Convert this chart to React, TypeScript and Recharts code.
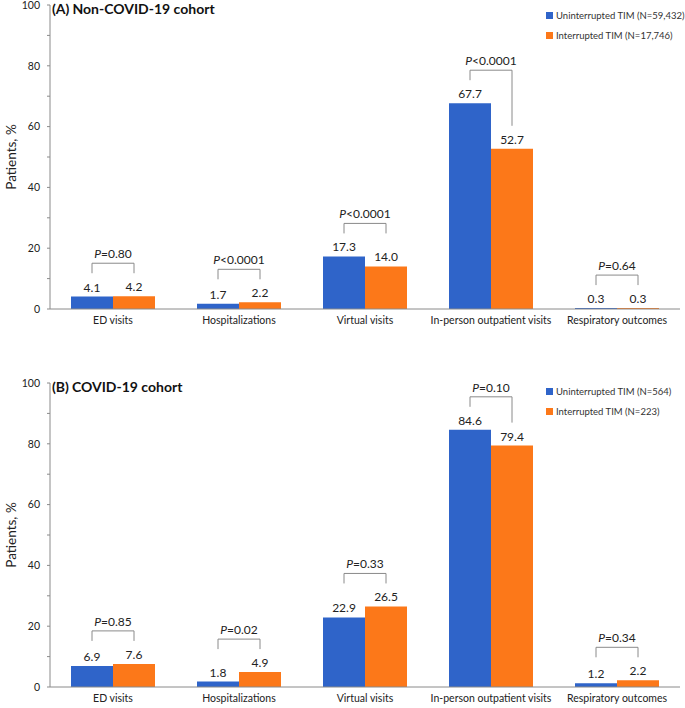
import { BarChart, Bar, XAxis, YAxis, Legend, LabelList } from 'recharts'

const categories = ['ED visits', 'Hospitalizations', 'Virtual visits', 'In-person outpatient visits', 'Respiratory outcomes']

const nonCovidUninterrupted = [4.1, 1.7, 17.3, 67.7, 0.3]
const nonCovidInterrupted = [4.2, 2.2, 14.0, 52.7, 0.3]
const nonCovidP = ['=0.80', '<0.0001', '<0.0001', '<0.0001', '=0.64']

const covidUninterrupted = [6.9, 1.8, 22.9, 84.6, 1.2]
const covidInterrupted = [7.6, 4.9, 26.5, 79.4, 2.2]
const covidP = ['=0.85', '=0.02', '=0.33', '=0.10', '=0.34']

const yTicks = [0, 10, 20, 30, 40, 50, 60, 70, 80, 90, 100]

const BLUE = '#2F64C9'
const ORANGE = '#FC7819'
const FONT = 'Lato, "Open Sans", sans-serif'

interface Row {
  name: string
  a: number
  b: number
  p: string
}

const buildRows = (a: number[], b: number[], p: string[]): Row[] =>
  categories.map((name, i) => ({ name, a: a[i], b: b[i], p: p[i] }))

// bracket + P value, drawn from the orange bar geometry
const makeBracket = (rows: Row[]) => (props: any) => {
  const vb = props.viewBox ?? props
  const { x, y, width, height } = vb
  const row = rows[props.index]
  if (!row || !height) return null
  const base = y + height
  const ppu = height / row.b
  const blueTop = base - row.a * ppu
  const cxL = x - width / 2
  const cxR = x + width / 2
  let legL = blueTop - 23
  let legR = y - 23
  if (Math.abs(legL - legR) < 14) {
    legL = legR = Math.min(legL, legR)
  }
  const top = Math.min(legL, legR) - 10
  return (
    <g>
      <path d={`M${cxL},${legL}V${top}H${cxR}V${legR}`} stroke="#8a8a8a" strokeWidth={1} fill="none" />
      <text x={(cxL + cxR) / 2} y={top - 5} textAnchor="middle" fontSize={12} fill="#222" fontFamily={FONT}>
        <tspan fontStyle="italic">P</tspan>
        <tspan>{row.p}</tspan>
      </text>
    </g>
  )
}

const renderLegend = (props: any) => {
  const items = [...(props.payload || [])].sort((p: any, q: any) =>
    String(p.dataKey).localeCompare(String(q.dataKey))
  )
  return (
    <div style={{ fontFamily: FONT, fontSize: 9.5, color: '#333' }}>
      {items.map((item: any) => (
        <div key={item.value} style={{ display: 'flex', alignItems: 'center', height: 20, whiteSpace: 'nowrap' }}>
          <span style={{ width: 7, height: 7, background: item.color, marginRight: 3, display: 'inline-block' }} />
          {item.value}
        </div>
      ))}
    </div>
  )
}

interface PanelProps {
  rows: Row[]
  title: string
  letter: string
  nA: string
  nB: string
  height: number
  top: number
  xHeight: number
  legendTop: number
  titleTop: number
}

function Panel({ rows, title, letter, nA, nB, height, top, xHeight, legendTop, titleTop }: PanelProps) {
  return (
    <div style={{ position: 'relative', width: 685, height }}>
      <BarChart
        width={685}
        height={height}
        data={rows}
        margin={{ top, right: 5, left: 0, bottom: 0 }}
        barCategoryGap={21}
        barGap={0}
      >
        <XAxis
          dataKey="name"
          height={xHeight}
          tickLine={false}
          axisLine={{ stroke: '#8a8a8a' }}
          tick={{ fontSize: 10.5, fill: '#222', fontFamily: FONT }}
        />
        <YAxis
          width={50}
          domain={[0, 100]}
          ticks={yTicks}
          interval={0}
          tickFormatter={(v: number) => (v % 20 === 0 ? String(v) : '')}
          tickSize={3}
          tickMargin={7}
          tickLine={{ stroke: '#8a8a8a' }}
          axisLine={{ stroke: '#8a8a8a' }}
          tick={{ fontSize: 10.5, fill: '#222', fontFamily: FONT }}
          label={{
            value: 'Patients, %',
            angle: -90,
            position: 'insideLeft',
            offset: 11,
            style: { textAnchor: 'middle', fontSize: 13.5, fill: '#222', fontFamily: FONT },
          }}
        />
        <Legend
          layout="vertical"
          align="center"
          verticalAlign="middle"
          content={renderLegend}
          wrapperStyle={{ left: 546, top: legendTop, width: 'auto' }}
        />
        <Bar dataKey="a" name={`Uninterrupted TIM (N=${nA})`} fill={BLUE} isAnimationActive={false}>
          <LabelList
            dataKey="a"
            position="top"
            offset={5}
            formatter={(v: any) => Number(v).toFixed(1)}
            style={{ fontSize: 12, fill: '#222', fontFamily: FONT }}
          />
        </Bar>
        <Bar dataKey="b" name={`Interrupted TIM (N=${nB})`} fill={ORANGE} isAnimationActive={false}>
          <LabelList
            dataKey="b"
            position="top"
            offset={5}
            formatter={(v: any) => Number(v).toFixed(1)}
            style={{ fontSize: 12, fill: '#222', fontFamily: FONT }}
          />
          <LabelList dataKey="b" content={makeBracket(rows)} />
        </Bar>
      </BarChart>
      <div
        style={{
          position: 'absolute',
          left: 52,
          top: titleTop,
          fontFamily: FONT,
          fontWeight: 700,
          fontSize: 14,
          color: '#111',
          whiteSpace: 'nowrap',
        }}
      >
        <span style={{ marginRight: 3 }}>({letter})</span>
        {title}
      </div>
    </div>
  )
}

export default function App() {
  const rowsA = buildRows(nonCovidUninterrupted, nonCovidInterrupted, nonCovidP)
  const rowsB = buildRows(covidUninterrupted, covidInterrupted, covidP)
  return (
    <div style={{ position: 'absolute', left: 0, top: 0, width: 685, height: 708, background: '#fff' }}>
      <Panel
        rows={rowsA}
        letter="A"
        title="Non-COVID-19 cohort"
        nA="59,432"
        nB="17,746"
        height={340}
        top={5}
        xHeight={31}
        legendTop={5}
        titleTop={0}
      />
      <Panel
        rows={rowsB}
        letter="B"
        title="COVID-19 cohort"
        nA="564"
        nB="223"
        height={368}
        top={43}
        xHeight={21}
        legendTop={41}
        titleTop={38}
      />
    </div>
  )
}
